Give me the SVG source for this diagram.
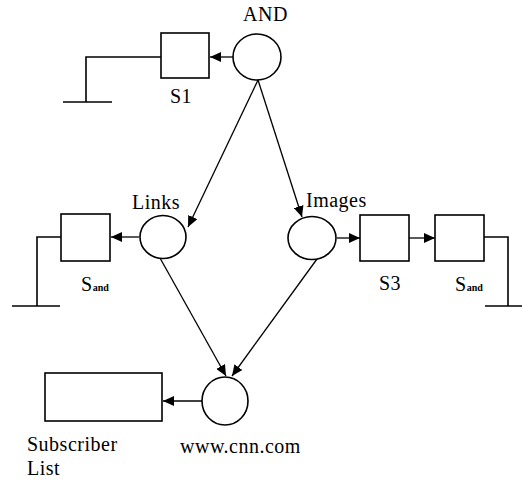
<svg xmlns="http://www.w3.org/2000/svg" width="522" height="481" viewBox="0 0 522 481">
<style>
.n{fill:#fff;stroke:#000;stroke-width:1.6}
.g{fill:none;stroke:#000;stroke-width:1.6}
.c{fill:none;stroke:#000;stroke-width:1.3;marker-end:url(#ah)}
text{font-family:"Liberation Serif","Times New Roman",serif;font-size:20px;letter-spacing:0.5px;fill:#000}
.sub{font-size:10px;font-weight:bold;letter-spacing:0}
</style>
<defs>
<marker id="ah" markerUnits="userSpaceOnUse" markerWidth="12" markerHeight="10" refX="11" refY="5" orient="auto">
<path d="M0,0 L11,5 L0,10 Z" fill="#000"/>
</marker>
</defs>
<rect width="522" height="481" fill="#fff"/>
<g id="connectors">
<line class="c" x1="233" y1="57" x2="210" y2="57"/>
<line class="c" x1="258" y1="80" x2="188" y2="227"/>
<line class="c" x1="258" y1="80" x2="302" y2="217"/>
<line class="c" x1="139" y1="237" x2="111" y2="237"/>
<line class="c" x1="337" y1="238" x2="360" y2="238"/>
<line class="c" x1="409" y1="238" x2="435" y2="238"/>
<line class="c" x1="160" y1="258" x2="226" y2="376"/>
<line class="c" x1="317" y1="259" x2="232" y2="376"/>
<line class="c" x1="202" y1="401" x2="163" y2="401"/>
</g>
<g id="AND">
<ellipse class="n" cx="257" cy="57" rx="24" ry="23"/>
<text x="243" y="21">AND</text>
</g>
<g id="S1">
<rect class="n" x="161" y="33" width="48" height="45"/>
<polyline class="g" points="161,57 86,57 86,102"/>
<line class="g" x1="63" y1="102" x2="112" y2="102"/>
<text x="170" y="103">S1</text>
</g>
<g id="Links">
<ellipse class="n" cx="163" cy="237" rx="23" ry="21.5"/>
<text x="132" y="209">Links</text>
</g>
<g id="Sand_left">
<rect class="n" x="61" y="214" width="49" height="47"/>
<polyline class="g" points="61,237 37,237 37,306"/>
<line class="g" x1="12" y1="306" x2="60" y2="306"/>
<text x="81" y="291">S<tspan class="sub">and</tspan></text>
</g>
<g id="Images">
<ellipse class="n" cx="312" cy="238" rx="24" ry="21.5"/>
<text x="306" y="207">Images</text>
</g>
<g id="S3">
<rect class="n" x="360" y="215" width="49" height="46"/>
<text x="379" y="290">S3</text>
</g>
<g id="Sand_right">
<rect class="n" x="435" y="215" width="49" height="46"/>
<polyline class="g" points="484,237 508,237 508,306"/>
<line class="g" x1="485" y1="306" x2="522" y2="306"/>
<text x="455" y="291">S<tspan class="sub">and</tspan></text>
</g>
<g id="www">
<ellipse class="n" cx="225" cy="401" rx="23" ry="24"/>
<text x="180" y="453">www.cnn.com</text>
</g>
<g id="Subscriber">
<rect class="n" x="45" y="373" width="117" height="48"/>
<text x="27" y="451">Subscriber</text>
<text x="27" y="475">List</text>
</g>
</svg>
